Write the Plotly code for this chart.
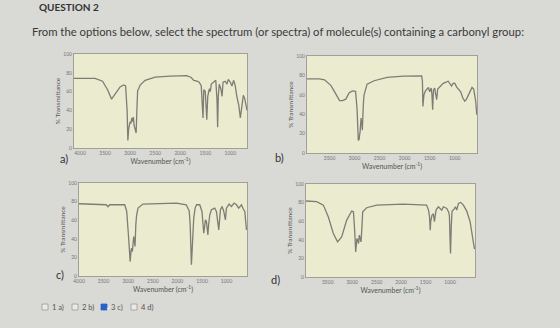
import plotly.graph_objects as go

# ---------------- data ----------------
tick_wn = [4000, 3500, 3000, 2500, 2000, 1500, 1000]
tick_T = [0, 20, 40, 60, 80, 100]

a_wn = [4120, 3700, 3550, 3450, 3370, 3300, 3200, 3130, 3090, 3060, 3045, 3030, 3000, 2985, 2965, 2950, 2935, 2920, 2900, 2880, 2865, 2850, 2830, 2800, 2700, 2500, 2200, 1870, 1780, 1730, 1680, 1620, 1580, 1545, 1530, 1500, 1470, 1450, 1420, 1400, 1380, 1330, 1290, 1265, 1253, 1240, 1220, 1185, 1165, 1145, 1100, 1067, 1040, 1000, 967, 935, 905, 870, 830, 800, 770, 740, 710, 680, 667]
a_T = [74, 74, 71, 62, 52, 57, 65, 67, 66, 40, 8, 20, 28, 26, 32, 28, 33, 24, 20, 16, 40, 61, 63, 67, 72, 75.5, 76.5, 77, 75, 72, 71.5, 70, 66, 32, 62, 60, 30, 55, 63, 60, 68, 70, 72, 50, 22, 55, 68, 62, 55, 70, 71, 68, 73, 70, 66, 72, 67, 55, 45, 32, 45, 56, 52, 45, 40]

b_wn = [3950, 3700, 3600, 3470, 3370, 3330, 3300, 3240, 3175, 3110, 3045, 2980, 2950, 2925, 2910, 2890, 2870, 2855, 2845, 2825, 2810, 2750, 2610, 2350, 2020, 1660, 1645, 1635, 1615, 1585, 1525, 1500, 1470, 1455, 1440, 1425, 1400, 1385, 1360, 1340, 1300, 1230, 1130, 1100, 1063, 1030, 997, 960, 931, 880, 840, 800, 770, 753, 700, 654, 621, 600, 581, 560]
b_T = [76.5, 76.5, 75.5, 69.5, 60.5, 56, 54, 54, 55.5, 62, 64, 63.5, 45, 13, 14, 22, 36, 30, 23.5, 50, 60, 71, 74.5, 78, 79.2, 79.6, 74, 48, 60, 64, 67.5, 63, 67, 60, 44.7, 65, 67, 62, 55, 66, 68, 71.8, 74, 72, 69, 72, 71.8, 68, 65.8, 63, 57, 53.5, 55, 57, 62.3, 67.6, 65.8, 60, 53.5, 39.4]

c_wn = [4000, 3700, 3450, 3410, 3376, 3070, 3030, 2990, 2960, 2940, 2929, 2915, 2900, 2888, 2870, 2861, 2845, 2830, 2800, 2700, 2020, 1820, 1760, 1740, 1715, 1690, 1668, 1640, 1610, 1546, 1500, 1464, 1445, 1430, 1410, 1380, 1365, 1342, 1308, 1241, 1207, 1170, 1159, 1140, 1125, 1091, 1057, 1024, 1003, 949, 902, 847, 800, 752, 698, 660, 630, 596]
c_T = [77.7, 77.3, 76.6, 74.5, 76.6, 76.6, 69.4, 40, 15.5, 28, 30, 26.3, 38, 42.4, 36, 31.7, 55, 65, 73, 77.3, 78.4, 76.6, 70, 55, 12, 40, 62, 73, 76.6, 76.6, 69.4, 46, 58, 60.4, 58.6, 44.2, 55, 65.8, 71.2, 73, 69.4, 55, 49.6, 62, 71.2, 74.8, 69.4, 60.4, 73, 77.3, 74.8, 78.4, 76.6, 73, 76.6, 72, 69.4, 49.6]

d_wn = [3945, 3727, 3590, 3490, 3386, 3300, 3216, 3113, 3011, 2975, 2950, 2929, 2915, 2905, 2890, 2870, 2855, 2841, 2820, 2800, 2786, 2704, 2500, 1954, 1480, 1440, 1420, 1405, 1395, 1368, 1340, 1320, 1300, 1286, 1238, 1170, 1136, 1067, 1030, 1013, 1000, 990, 975, 958, 917, 890, 863, 829, 781, 727, 659, 590, 536, 500]
d_T = [81.7, 81, 77.3, 64.7, 46.8, 37.8, 43.2, 61.2, 70.9, 70.1, 50, 27, 35, 41.4, 40, 36, 45, 40, 37.8, 55, 70.1, 74.5, 77.3, 78.4, 77.3, 71.9, 65, 50.4, 60, 66.5, 68, 59.4, 68, 72, 75.5, 71.9, 75.5, 73.7, 70, 66, 40, 25.2, 55, 71, 73, 75.5, 71.9, 79.1, 80.2, 77.3, 70.9, 59.4, 41.4, 30]

panel_letters = ["a)", "b)", "c)", "d)"]
options = ["1 a)", "2 b)", "3 c)", "4 d)"]
checked = [False, False, True, False]
title_text = "QUESTION 2"
question = "From the options below, select the spectrum (or spectra) of molecule(s) containing a carbonyl group:"
x_title = "Wavenumber (cm<sup>-1</sup>)"
y_title = "% Transmittance"

# ---------------- layout helpers ----------------
W, H = 560, 328
def px(x):
    return x / W
def py(y):
    return 1 - y / H

# plot boxes in pixels (left, top, right, bottom) and x ranges
boxes = [(74, 54, 247, 148), (307, 56, 477, 153), (79, 183, 247, 276), (306, 184, 475, 277)]
xranges = [[4120, 667], [3950, 555], [4000, 585], [3945, 490]]
series = [(a_wn, a_T), (b_wn, b_T), (c_wn, c_T), (d_wn, d_T)]
letter_pos = [(58, 158), (279, 157), (54, 283), (275, 288)]

LINE = "#7d7d76"
FONT = "Lato, 'Open Sans', sans-serif"

fig = go.Figure()
layout = dict(
    template="none",
    width=W, height=H,
    margin=dict(l=0, r=0, t=0, b=0, pad=0),
    paper_bgcolor="#d9d9d6",
    plot_bgcolor="#ebebd0",
    showlegend=False,
    font=dict(family=FONT, color="#333"),
)
annotations = []
shapes = []
for i, ((l, t, r, b), xr, (wn, T)) in enumerate(zip(boxes, xranges, series)):
    n = "" if i == 0 else str(i + 1)
    fig.add_trace(go.Scatter(x=wn, y=T, mode="lines", line=dict(color=LINE, width=1.3),
                             xaxis="x" + n, yaxis="y" + n, hoverinfo="skip"))
    layout["xaxis" + n] = dict(
        domain=[px(l), px(r)], range=xr, anchor="y" + n, automargin=False,
        tickvals=tick_wn, ticktext=[str(v) for v in tick_wn],
        tickfont=dict(size=5, color="#777"), ticks="", showgrid=False, zeroline=False,
        showline=True, linecolor="#a0a096", linewidth=1, mirror=True,
        title=dict(text=x_title, font=dict(size=7, color="#555"), standoff=3),
    )
    layout["yaxis" + n] = dict(
        domain=[py(b), py(t)], range=[0, 100], anchor="x" + n, automargin=False,
        tickvals=tick_T, tickfont=dict(size=5, color="#777"), ticks="",
        showgrid=False, zeroline=False,
        showline=True, linecolor="#a0a096", linewidth=1, mirror=True,
        title=dict(text=y_title, font=dict(size=6.5, color="#555"), standoff=2),
    )
    lx, ly = letter_pos[i]
    annotations.append(dict(text=panel_letters[i], x=px(lx), y=py(ly), xref="paper", yref="paper",
                            showarrow=False, font=dict(size=11, color="#333", family=FONT)))

annotations.append(dict(text="<b>" + title_text + "</b>", x=px(37), y=py(7), xref="paper", yref="paper",
                        xanchor="left", yanchor="middle", showarrow=False, font=dict(size=10, color="#333", family=FONT)))
annotations.append(dict(text=question, x=px(30), y=py(32), xref="paper", yref="paper",
                        xanchor="left", yanchor="middle", showarrow=False, font=dict(size=11.3, color="#3a3a3a", family=FONT)))

opt_x = [42, 72, 101, 131]
for ox, label, chk in zip(opt_x, options, checked):
    shapes.append(dict(type="rect", xref="paper", yref="paper",
                       x0=px(ox), x1=px(ox + 6), y0=py(310), y1=py(304),
                       line=dict(color="#9a9a9a" if not chk else "#2a62c9", width=0.8),
                       fillcolor="#2a62c9" if chk else "#e9e9e7"))
    if chk:
        annotations.append(dict(text="✓", x=px(ox + 3), y=py(307), xref="paper", yref="paper",
                                yanchor="middle", showarrow=False, font=dict(size=6, color="white")))
    annotations.append(dict(text=label, x=px(ox + 8), y=py(307), xref="paper", yref="paper",
                            xanchor="left", yanchor="middle", showarrow=False,
                            font=dict(size=7.5, color="#555", family=FONT)))

layout["annotations"] = annotations
layout["shapes"] = shapes
fig.update_layout(**layout)
fig.write_html("out.html")
